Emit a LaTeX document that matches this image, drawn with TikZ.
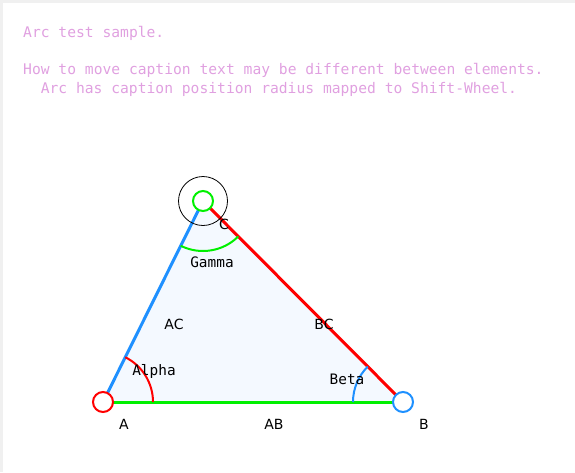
\documentclass[tikz,border=0pt]{standalone}
\usepackage{fontspec}
\setmainfont{DejaVu Sans}
\newfontfamily\monof{DejaVu Sans Mono}
\usetikzlibrary{calc}
\definecolor{framegray}{RGB}{240,240,240}
\definecolor{headcol}{RGB}{224,160,224}
\definecolor{trifill}{RGB}{244,249,255}
\definecolor{dblue}{RGB}{30,144,255}
\definecolor{lgreen}{RGB}{0,240,0}
\definecolor{pred}{RGB}{255,0,0}
\begin{document}
\begin{tikzpicture}[x=1pt,y=-1pt,
  head/.style={anchor=base west,inner sep=0pt,text=headcol,font=\monof\fontsize{14.65}{17}\selectfont},
  edgeline/.style={line width=3pt},
  arcline/.style={line width=2pt},
  ptcircle/.style={line width=2pt,fill=white},
  lab/.style={inner sep=0pt,font=\fontsize{14}{16}\selectfont},
  anglab/.style={inner sep=0pt,font=\monof\fontsize{14.4}{16}\selectfont}]
\useasboundingbox (0,0) rectangle (575,472);
\fill[framegray] (0,0) rectangle (575,3);
\fill[framegray] (0,0) rectangle (3,472);
% header
\node[head] (h1) at (23,37) {Arc test sample.};
\node[head] (h2) at (23,74) {How to move caption text may be different between elements.};
\node[head] (h3) at (40.6,93) {Arc has caption position radius mapped to Shift-Wheel.};
% points
\coordinate (A) at (103,402);
\coordinate (B) at (403,402);
\coordinate (C) at (203,201);
\fill[trifill] (A) -- (B) -- (C) -- cycle;
\draw[edgeline,lgreen] (A) -- (B);
\draw[edgeline,pred] (B) -- (C);
\draw[edgeline,dblue] (A) -- (C);
% angle arcs
\draw[arcline,pred] ($(A)+(0:50)$) arc[start angle=0,end angle=-63.55,radius=50];
\draw[arcline,dblue] ($(B)+(180:50)$) arc[start angle=180,end angle=225.14,radius=50];
\draw[arcline,lgreen] ($(C)+(45.14:50)$) arc[start angle=45.14,end angle=116.45,radius=50];
% point circles
\draw[line width=0.8pt,black] (C) circle[radius=24.5];
\draw[ptcircle,draw=pred] (A) circle[radius=10];
\draw[ptcircle,draw=dblue] (B) circle[radius=10];
\draw[ptcircle,draw=lgreen] (C) circle[radius=10];
% labels
\node[lab] (lA) at (124,424) {A};
\node[lab] (lB) at (424,424) {B};
\node[lab] (lC) at (224,224) {C};
\node[lab] (lAB) at (274,424) {AB};
\node[lab] (lAC) at (174,324) {AC};
\node[lab] (lBC) at (324,324) {BC};
\node[anglab] (lAl) at (154,371) {Alpha};
\node[anglab] (lBe) at (347,379) {Beta};
\node[anglab] (lGa) at (212,262) {Gamma};
\end{tikzpicture}
\end{document}
